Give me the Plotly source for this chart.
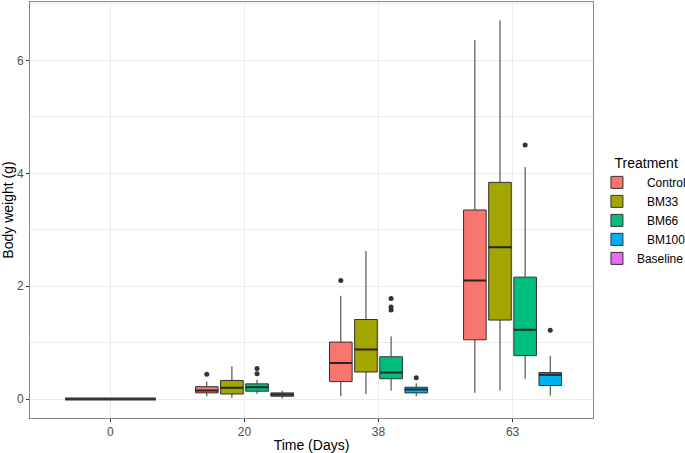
import plotly.graph_objects as go

# ---- data ----
days = ["0", "20", "38", "63"]
treat_days = ["20", "38", "63"]
treatments = ["Control", "BM33", "BM66", "BM100"]
legend_labels = ["\u00a0\u00a0\u00a0Control", "\u00a0\u00a0\u00a0BM33", "\u00a0\u00a0\u00a0BM66", "\u00a0\u00a0\u00a0BM100"]

control_lf = [0.05, 0.05, 0.11]
control_q1 = [0.11, 0.31, 1.05]
control_med = [0.15, 0.64, 2.10]
control_q3 = [0.22, 1.01, 3.35]
control_uf = [0.31, 1.83, 6.36]
control_out = [[0.44], [2.10], []]

bm33_lf = [0.02, 0.09, 0.15]
bm33_q1 = [0.09, 0.48, 1.40]
bm33_med = [0.20, 0.88, 2.69]
bm33_q3 = [0.33, 1.41, 3.84]
bm33_uf = [0.58, 2.62, 6.71]
bm33_out = [[], [], []]

bm66_lf = [0.09, 0.15, 0.36]
bm66_q1 = [0.14, 0.36, 0.77]
bm66_med = [0.21, 0.47, 1.23]
bm66_q3 = [0.27, 0.75, 2.16]
bm66_uf = [0.34, 1.11, 4.11]
bm66_out = [[0.45, 0.54], [1.58, 1.63, 1.78], [4.50]]

bm100_lf = [0.01, 0.05, 0.06]
bm100_q1 = [0.05, 0.11, 0.24]
bm100_med = [0.08, 0.17, 0.43]
bm100_q3 = [0.11, 0.21, 0.47]
bm100_uf = [0.15, 0.28, 0.76]
bm100_out = [[], [0.38], [1.22]]

baseline_day = ["0"]
baseline_stats = [0.0]

colors = ["#F8766D", "#A3A500", "#00BF7D", "#00B0F6", "#E76BF3"]

stats = [
    (control_lf, control_q1, control_med, control_q3, control_uf, control_out),
    (bm33_lf, bm33_q1, bm33_med, bm33_q3, bm33_uf, bm33_out),
    (bm66_lf, bm66_q1, bm66_med, bm66_q3, bm66_uf, bm66_out),
    (bm100_lf, bm100_q1, bm100_med, bm100_q3, bm100_uf, bm100_out),
]

fig = go.Figure()
for name, label, col, (lf, q1, med, q3, uf, out) in zip(treatments, legend_labels, colors, stats):
    # sample points: the median (inside the box, never drawn) plus the outliers
    samples = [[m] + o for m, o in zip(med, out)]
    fig.add_trace(go.Box(
        name=label, x=treat_days, y=samples,
        lowerfence=lf, q1=q1, median=med, q3=q3, upperfence=uf,
        fillcolor=col, line=dict(color="#333333", width=1),
        whiskerwidth=0, boxpoints="outliers", jitter=0, pointpos=0,
        marker=dict(color="#333333", size=5),
        alignmentgroup="treat", offsetgroup=name,
    ))
    # thicker median line (ggplot style), drawn as a flat box at the median
    fig.add_trace(go.Box(
        name=label, x=treat_days, showlegend=False, hoverinfo="skip",
        lowerfence=med, q1=med, median=med, q3=med, upperfence=med,
        fillcolor="rgba(0,0,0,0)", line=dict(color="#262626", width=2),
        whiskerwidth=0, boxpoints=False,
        alignmentgroup="treat", offsetgroup=name,
    ))

fig.add_trace(go.Box(
    name="Baseline", x=baseline_day, y=[baseline_stats],
    lowerfence=baseline_stats, q1=baseline_stats, median=baseline_stats,
    q3=baseline_stats, upperfence=baseline_stats,
    fillcolor=colors[4], line=dict(color="#333333", width=1),
    whiskerwidth=0, boxpoints=False,
    alignmentgroup="base", offsetgroup="base",
))
fig.add_trace(go.Box(
    name="Baseline", x=baseline_day, showlegend=False, hoverinfo="skip",
    lowerfence=baseline_stats, q1=baseline_stats, median=baseline_stats,
    q3=baseline_stats, upperfence=baseline_stats,
    fillcolor="rgba(0,0,0,0)", line=dict(color="#333333", width=3),
    whiskerwidth=0, boxpoints=False,
    alignmentgroup="base", offsetgroup="base",
))

font = "Liberation Sans, Arial, sans-serif"
fig.update_layout(
    width=685, height=453,
    margin=dict(l=30, r=92, t=2, b=35, autoexpand=False),
    paper_bgcolor="white", plot_bgcolor="white",
    boxmode="group", boxgap=0.25, boxgroupgap=0.1,
    font=dict(family=font, size=12, color="#000000"),
    legend=dict(
        title=dict(text="\u00a0\u00a0\u00a0\u00a0Treatment", font=dict(size=14, color="#000000")),
        x=1.007, xanchor="left", y=0.645, yanchor="top",
        font=dict(size=12, color="#000000"),
        bgcolor="rgba(0,0,0,0)", tracegroupgap=0,
    ),
    xaxis=dict(
        type="category", categoryorder="array", categoryarray=days,
        range=[-0.6, 3.6], automargin=False,
        title=dict(text="Time (Days)", font=dict(size=14, color="#000000"), standoff=2),
        showgrid=True, gridcolor="#EBEBEB", gridwidth=1,
        ticks="outside", ticklen=3, tickcolor="#333333",
        tickfont=dict(size=12, color="#4D4D4D"),
        showline=True, linecolor="#8a8a8a", linewidth=1, mirror=True,
        zeroline=False,
    ),
    yaxis=dict(
        range=[-0.335, 7.035], dtick=2, tick0=0, automargin=False,
        title=dict(text="Body weight (g)", font=dict(size=14, color="#000000"), standoff=3),
        showgrid=True, gridcolor="#EBEBEB", gridwidth=1,
        minor=dict(dtick=1, showgrid=True, gridcolor="#EBEBEB", gridwidth=0.6),
        ticks="outside", ticklen=3, tickcolor="#333333",
        tickfont=dict(size=12, color="#4D4D4D"),
        showline=True, linecolor="#8a8a8a", linewidth=1, mirror=True,
        zeroline=False,
    ),
)

fig.write_html("out.html", config={"displayModeBar": False},
               post_script="document.body.style.margin='0';")
